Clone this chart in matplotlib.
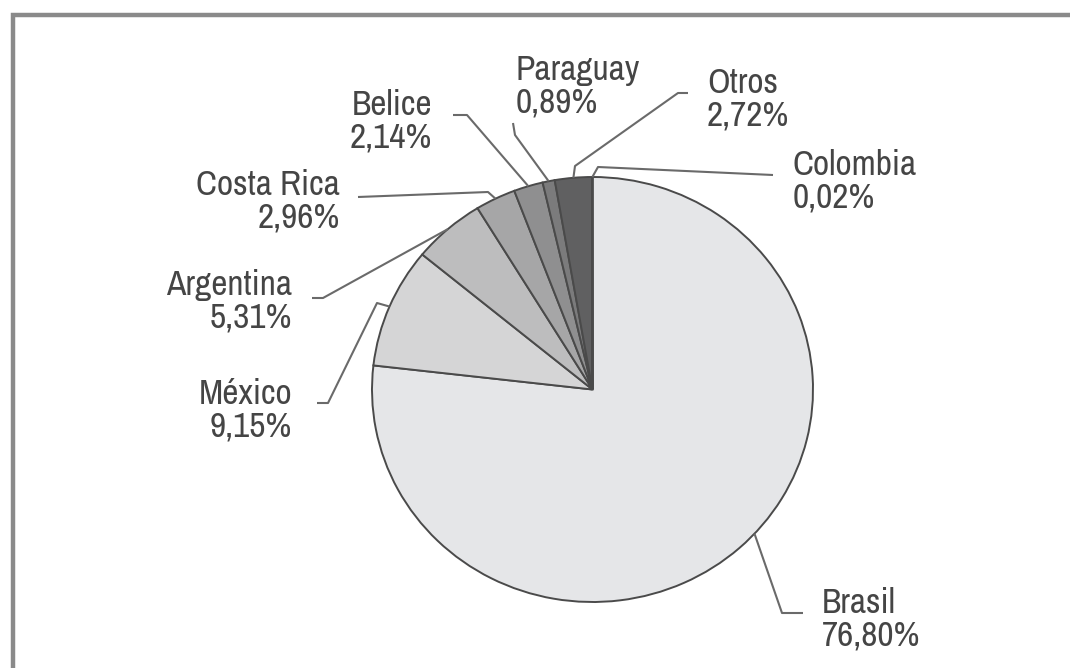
import numpy as np
import matplotlib
matplotlib.use("Agg")
import matplotlib.pyplot as plt
from matplotlib import font_manager

# data
countries = ["Brasil", "México", "Argentina", "Costa Rica", "Belice", "Paraguay", "Otros", "Colombia"]
shares = [76.80, 9.15, 5.31, 2.96, 2.14, 0.89, 2.72, 0.02]
colors = ["#e5e6e8", "#d5d5d6", "#bdbdbe", "#a6a6a7", "#8f8f90", "#7b7b7c", "#606061", "#9a9a9a"]

# look for a narrow font like the original, else plain Liberation Sans
narrow = None
for f in font_manager.fontManager.ttflist:
    if ('Narrow' in f.name or 'Condensed' in f.name) and f.weight in (400, 'normal', 'regular') and f.style == 'normal':
        narrow = f.name
        break
for f in font_manager.fontManager.ttflist:
    if f.name == 'DejaVu Sans' and f.stretch == 'condensed' and f.style == 'normal' and narrow is None:
        narrow = 'DejaVu Sans'
if narrow:
    plt.rcParams['font.family'] = [narrow, 'DejaVu Sans']
    fsize = 25.5
    lsp = 1.02
    dy = 3
else:
    plt.rcParams['font.family'] = ['Liberation Sans', 'DejaVu Sans']
    fsize = 21
    lsp = 0.92
    dy = 5
plt.rcParams['font.stretch'] = 'condensed'

W, H = 1070, 668
fig = plt.figure(figsize=(W / 100, H / 100), dpi=100)

# pie box in pixels (slightly wider than tall, like the original)
cx, cy, rx, ry = 592.5, 389.5, 220.5, 212.5
ax = fig.add_axes([(cx - rx) / W, 1 - (cy + ry) / H, 2 * rx / W, 2 * ry / H])
wedges, _ = ax.pie(shares, colors=colors, startangle=90, counterclock=False,
                   wedgeprops=dict(edgecolor="#4a4a4a", linewidth=1.4))
ax.set_aspect('auto')
ax.set_xlim(-1, 1)
ax.set_ylim(-1, 1)
ax.axis('off')

# overlay in pixel coordinates for frame, leaders and labels
ov = fig.add_axes([0, 0, 1, 1], zorder=5)
ov.set_xlim(0, W)
ov.set_ylim(H, 0)
ov.axis('off')
ov.patch.set_alpha(0)

# frame (open to the right and bottom, cropped)
ov.plot([13, 13, W + 5], [H + 5, 14.5, 14.5], color="#8a8a8a", lw=3.2, solid_joinstyle='miter')

# label layout: (text anchor x, cap-top y, align, leader points from text side, fraction in wedge)
layout = {
    "Brasil":     (822, 590, 'left',  [(803, 613), (782, 613)], 0.52),
    "México":     (292, 381, 'right', [(317, 403), (328, 403), (377, 303)], 0.5),
    "Argentina":  (292, 272, 'right', [(312, 298), (323, 298)], 0.5),
    "Costa Rica": (340, 172, 'right', [(358, 197), (488, 192)], 0.5),
    "Belice":     (432, 92,  'right', [(453, 115), (467, 115)], 0.5),
    "Paraguay":   (516, 57,  'left',  [(513, 123), (515, 135)], 0.5),
    "Otros":      (707, 70,  'left',  [(688, 93), (678, 93), (575, 166)], 0.5),
    "Colombia":   (793, 152, 'left',  [(773, 175), (598, 167)], 0.5),
}

for w, name, val in zip(wedges, countries, shares):
    tx, ty, ha, pts, frac = layout[name]
    t = np.deg2rad(w.theta1 + frac * (w.theta2 - w.theta1))
    ex = cx + rx * np.cos(t)
    ey = cy - ry * np.sin(t)
    xs = [p[0] for p in pts] + [ex]
    ys = [p[1] for p in pts] + [ey]
    ov.plot(xs, ys, color="#6a6a6a", lw=1.5, solid_capstyle='butt')
    label = f"{name}\n{val:.2f}%".replace('.', ',')
    ov.text(tx, ty - dy, label, ha=ha, va='top', multialignment=ha,
            fontsize=fsize, color="#454545", linespacing=lsp)

fig.savefig("out.png", dpi=100)
